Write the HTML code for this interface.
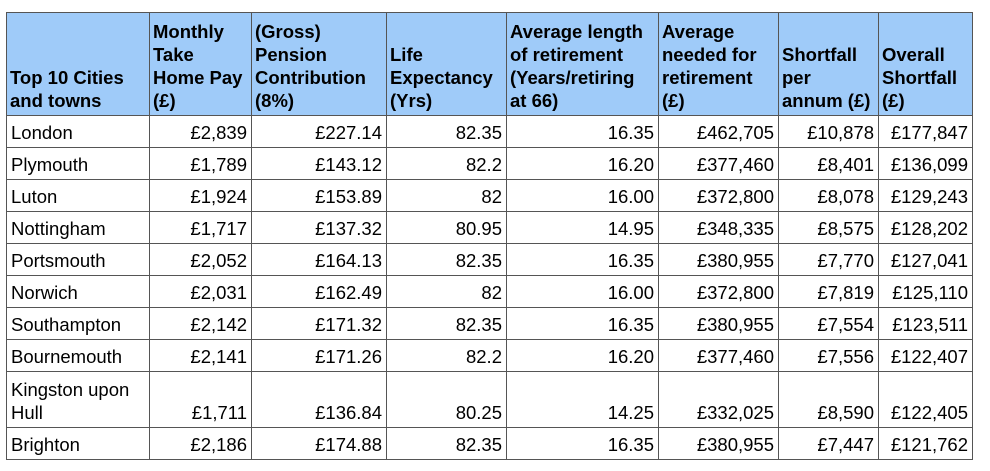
<!DOCTYPE html>
<html><head><meta charset="utf-8"><style>
body{margin:0;background:#fff;width:990px;height:471px;overflow:hidden;font-family:"Liberation Sans",Arial,sans-serif;}
table{position:absolute;left:6px;top:12px;border-collapse:collapse;table-layout:fixed;font-size:18.5px;color:#000}
td,th{border:1px solid #555;padding:0 4px 3px 4px;vertical-align:bottom;line-height:22px;overflow:hidden;white-space:nowrap}
th{background:#9fcbf9;font-weight:bold;text-align:left;height:99px;line-height:23px;padding-left:3px;padding-right:2px}
td{height:28px;text-align:right}
td:first-child{text-align:left}
tr.tall td{height:52px}
</style></head><body>
<table>
<colgroup><col style="width:143px"><col style="width:102px"><col style="width:135px"><col style="width:120px"><col style="width:152px"><col style="width:120px"><col style="width:100px"><col style="width:94px"></colgroup>
<tr>
<th>Top 10 Cities<br>and towns</th>
<th>Monthly<br>Take<br>Home Pay<br>(£)</th>
<th>(Gross)<br>Pension<br>Contribution<br>(8%)</th>
<th>Life<br>Expectancy<br>(Yrs)</th>
<th>Average length<br>of retirement<br>(Years/retiring<br>at 66)</th>
<th>Average<br>needed for<br>retirement<br>(£)</th>
<th>Shortfall<br>per<br>annum (£)</th>
<th>Overall<br>Shortfall<br>(£)</th>
</tr>
<tr><td>London</td><td>£2,839</td><td>£227.14</td><td>82.35</td><td>16.35</td><td>£462,705</td><td>£10,878</td><td>£177,847</td></tr>
<tr><td>Plymouth</td><td>£1,789</td><td>£143.12</td><td>82.2</td><td>16.20</td><td>£377,460</td><td>£8,401</td><td>£136,099</td></tr>
<tr><td>Luton</td><td>£1,924</td><td>£153.89</td><td>82</td><td>16.00</td><td>£372,800</td><td>£8,078</td><td>£129,243</td></tr>
<tr><td>Nottingham</td><td>£1,717</td><td>£137.32</td><td>80.95</td><td>14.95</td><td>£348,335</td><td>£8,575</td><td>£128,202</td></tr>
<tr><td>Portsmouth</td><td>£2,052</td><td>£164.13</td><td>82.35</td><td>16.35</td><td>£380,955</td><td>£7,770</td><td>£127,041</td></tr>
<tr><td>Norwich</td><td>£2,031</td><td>£162.49</td><td>82</td><td>16.00</td><td>£372,800</td><td>£7,819</td><td>£125,110</td></tr>
<tr><td>Southampton</td><td>£2,142</td><td>£171.32</td><td>82.35</td><td>16.35</td><td>£380,955</td><td>£7,554</td><td>£123,511</td></tr>
<tr><td>Bournemouth</td><td>£2,141</td><td>£171.26</td><td>82.2</td><td>16.20</td><td>£377,460</td><td>£7,556</td><td>£122,407</td></tr>
<tr class="tall"><td style="line-height:23px">Kingston upon<br>Hull</td><td>£1,711</td><td>£136.84</td><td>80.25</td><td>14.25</td><td>£332,025</td><td>£8,590</td><td>£122,405</td></tr>
<tr><td>Brighton</td><td>£2,186</td><td>£174.88</td><td>82.35</td><td>16.35</td><td>£380,955</td><td>£7,447</td><td>£121,762</td></tr>
</table>
</body></html>
